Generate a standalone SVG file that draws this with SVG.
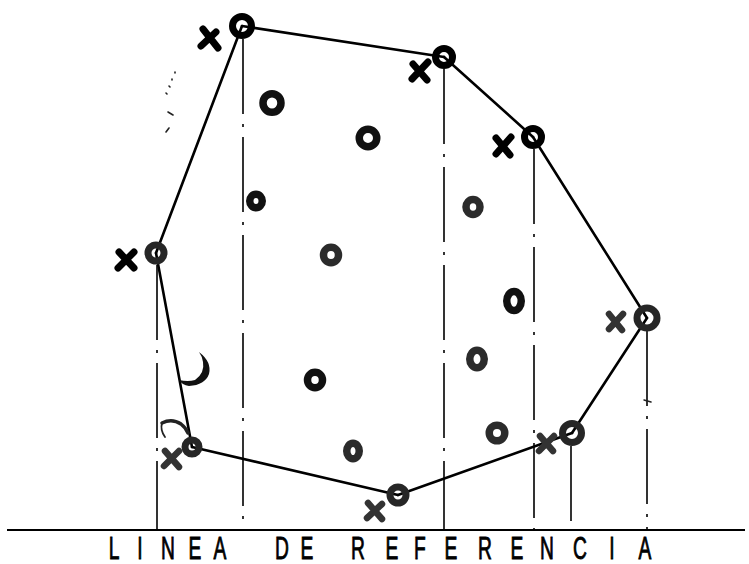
<svg xmlns="http://www.w3.org/2000/svg" width="749" height="564" viewBox="0 0 749 564">
<style>
  .bg { fill: #ffffff; }
  .edge { fill: none; stroke: #000; stroke-width: 2.6; stroke-linecap: round; }
  .proj { fill: none; stroke: #000; stroke-width: 1.6; stroke-dasharray: 75 10 3 10; }
  .ref { fill: none; stroke: #000; stroke-width: 2.2; }
  .vtx { fill: none; stroke: #000; stroke-width: 7; }
  .vtx2 { fill: none; stroke: #262626; stroke-width: 7; }
  .pt { fill: none; stroke: #111; stroke-width: 7.5; }
  .pt2 { fill: none; stroke: #2b2b2b; stroke-width: 7.5; }
  .xm { fill: none; stroke: #000; stroke-width: 7; stroke-linecap: round; }
  .xm2 { fill: none; stroke: #333; stroke-width: 6.5; stroke-linecap: round; }
  .mark { fill: none; stroke: #222; stroke-linecap: round; }
  .lbl { font-family: "Liberation Sans", Arial, sans-serif; font-size: 31px; fill: #000; stroke: #000; stroke-width: 0.9; text-anchor: middle; }
</style>
<rect class="bg" x="0" y="0" width="749" height="564"/>

<g id="projections">
  <line class="proj" x1="157" y1="265" x2="157" y2="530"/>
  <line class="proj" x1="243" y1="39" x2="243" y2="530"/>
  <line class="proj" x1="444" y1="69" x2="444" y2="530"/>
  <line class="proj" x1="534" y1="149" x2="534" y2="530"/>
  <line class="proj" x1="571" y1="446" x2="571" y2="530"/>
  <line class="proj" x1="647" y1="331" x2="647" y2="530"/>
</g>

<g id="reference-line">
  <line class="ref" x1="7" y1="530" x2="745" y2="530"/>
</g>

<g id="connectors">
  <line class="edge" x1="242" y1="26" x2="444" y2="57"/>
  <line class="edge" x1="444" y1="57" x2="533" y2="137"/>
  <line class="edge" x1="533" y1="137" x2="647" y2="318"/>
  <line class="edge" x1="647" y1="318" x2="572" y2="433"/>
  <line class="edge" x1="572" y1="433" x2="398" y2="495"/>
  <line class="edge" x1="398" y1="495" x2="192" y2="447"/>
  <line class="edge" x1="192" y1="447" x2="156" y2="253"/>
  <line class="edge" x1="156" y1="253" x2="242" y2="26"/>
</g>

<g id="v1"><circle class="vtx" cx="242" cy="26" r="9.5"/></g>
<g id="v2"><circle class="vtx" cx="444" cy="57" r="8.5"/></g>
<g id="v3"><circle class="vtx" cx="533" cy="137" r="8.5"/></g>
<g id="v4"><circle class="vtx2" cx="647" cy="318" r="10"/></g>
<g id="v5"><circle class="vtx2" cx="572" cy="433" r="9.5"/></g>
<g id="v6"><circle class="vtx2" cx="398" cy="495" r="8"/></g>
<g id="v7"><circle class="vtx2" cx="192" cy="447" r="7"/></g>
<g id="v8"><circle class="vtx2" cx="156" cy="253" r="8"/></g>

<g id="p1"><ellipse class="pt" cx="272" cy="103" rx="9" ry="9.25"/></g>
<g id="p2"><ellipse class="pt" cx="368" cy="138" rx="8.75" ry="8.75"/></g>
<g id="p3"><ellipse class="pt" cx="256" cy="201" rx="6.25" ry="6.75"/></g>
<g id="p4"><ellipse class="pt2" cx="331" cy="255" rx="7.5" ry="7.75"/></g>
<g id="p5"><ellipse class="pt2" cx="473" cy="207" rx="7" ry="7.5"/></g>
<g id="p6"><ellipse class="pt" cx="514" cy="301" rx="7.25" ry="9.5"/></g>
<g id="p7"><ellipse class="pt2" cx="477" cy="359" rx="7.25" ry="8.75"/></g>
<g id="p8"><ellipse class="pt2" cx="497" cy="433" rx="7.75" ry="7.75"/></g>
<g id="p9"><ellipse class="pt" cx="315" cy="380" rx="7.5" ry="7.75"/></g>
<g id="p10"><ellipse class="pt2" cx="353" cy="451" rx="6.25" ry="7.75"/></g>

<g id="x1"><path class="xm" d="M203 29 L218 48 M201 46 L216 32"/></g>
<g id="x2"><path class="xm" d="M413 64 L427 80 M412 79 L428 62"/></g>
<g id="x3"><path class="xm" d="M496 138 L510 155 M496 154 L511 137"/></g>
<g id="x4"><path class="xm" d="M119 252 L134 268 M118 268 L134 252"/></g>
<g id="x5"><path class="xm2" d="M609 314 L622 330 M609 329 L623 314"/></g>
<g id="x6"><path class="xm2" d="M540 436 L553 451 M539 451 L554 436"/></g>
<g id="x7"><path class="xm2" d="M368 503 L382 519 M367 518 L382 504"/></g>
<g id="x8"><path class="xm2" d="M165 451 L179 467 M164 466 L179 451"/></g>

<g id="stray-marks">
  <path d="M199 352 Q212 362 209 374 Q205 385 189 386 Q182 385 179 380 Q188 382 195 380 Q205 373 203 362 Q202 356 199 352 Z" fill="#111"/>
  <path class="mark" d="M162 423 Q172 418 181 424 Q186 428 188 433" stroke-width="3.5"/>
  <path class="mark" d="M162 423 Q160 430 165 437" stroke-width="1.8"/>
  <path class="mark" d="M644 400 L651 402" stroke-width="1.5"/>
  <path class="mark" d="M175 72 L175 73 M172 79 L172 80 M169 86 L170 87 M166 93 L167 94 M168 112 L173 115 M166 132 L169 128" stroke-width="1.6"/>
</g>

<g id="label">
  <text class="lbl" transform="scale(0.62 1)" y="559" x="183.9 225.8 271 314.5 354.8 404.8 454.8 495.2 536.3 577.4 632.3 677.4 727.4 782.3 833.9 882.3 935.5 987.1 1040.3">LINEA DE REFERENCIA</text>
</g>
</svg>
